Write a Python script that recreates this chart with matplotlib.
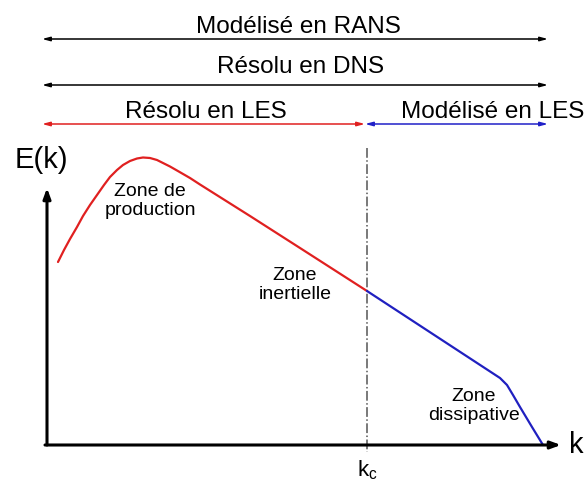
import matplotlib
matplotlib.use("agg")
import matplotlib.pyplot as plt

#### Data (pixel coordinates) ####
red_x = [58, 64, 70, 77, 83, 90, 97, 104, 110, 117, 123, 130, 137, 143, 150, 157, 163, 170, 177, 190, 200, 250, 300, 367]
red_y = [262, 250, 239, 227, 216, 205, 195, 185, 177, 170, 165, 161, 158.5, 157.5, 158, 160, 163, 166.5, 170.5, 178, 184.5, 216, 248, 291]
blue_x = [367, 500, 507, 513, 520, 532, 543]
blue_y = [291, 378, 385, 395, 407, 427, 445]

# label, arrow start, arrow end, arrow y, text x, text baseline, colour
spans = [("Modélisé en RANS", 42, 548, 39, 298, 33, "black"),
         ("Résolu en DNS", 42, 548, 85, 301, 73, "black"),
         ("Résolu en LES", 42, 365, 124, 206, 118, "#e02020"),
         ("Modélisé en LES", 365, 548, 124, 493, 118, "#2020c8")]

zones = [("Zone de\nproduction", 150, 201),
         ("Zone\ninertielle", 295, 285),
         ("Zone\ndissipative", 474, 406)]

kc = 367

fig = plt.figure(figsize=(5.87, 4.83), dpi=100)
ax = fig.add_axes([0, 0, 1, 1])
ax.set_xlim(0, 587)
ax.set_ylim(483, 0)
ax.axis("off")

font = "Liberation Sans"

for label, x0, x1, y, tx, ty, col in spans:
	ax.annotate("", xy=(x0, y), xytext=(x1, y),
		arrowprops=dict(arrowstyle="<|-|>,head_length=0.45,head_width=0.12", color=col, lw=1.1, shrinkA=0, shrinkB=0))
	ax.text(tx, ty, label, ha="center", va="baseline", fontsize=17.5, family=font, color="black")

# axes
ax.annotate("", xy=(47, 188), xytext=(47, 445),
	arrowprops=dict(arrowstyle="-|>,head_length=0.6,head_width=0.22", color="black", lw=2.2, shrinkA=0, shrinkB=0))
ax.annotate("", xy=(561, 445), xytext=(45, 445),
	arrowprops=dict(arrowstyle="-|>,head_length=0.6,head_width=0.22", color="black", lw=2.2, shrinkA=0, shrinkB=0))
ax.text(41, 160, "E(k)", ha="center", va="center", fontsize=21, family=font)
ax.text(576, 445, "k", ha="center", va="center", fontsize=21, family=font)

# cutoff
ax.plot([kc, kc], [148, 452], color="#555555", lw=1.1, linestyle="-.")
ax.text(kc, 470, "k$_\\mathregular{c}$", ha="center", va="center", fontsize=16, family=font)

ax.plot(red_x, red_y, color="#e02020", lw=1.6, solid_capstyle="round")
ax.plot(blue_x, blue_y, color="#2020c0", lw=1.6, solid_capstyle="round")

for label, x, y in zones:
	ax.text(x, y, label, ha="center", va="center", fontsize=14, family=font, linespacing=1.15)

fig.savefig("out.png", dpi=100)
